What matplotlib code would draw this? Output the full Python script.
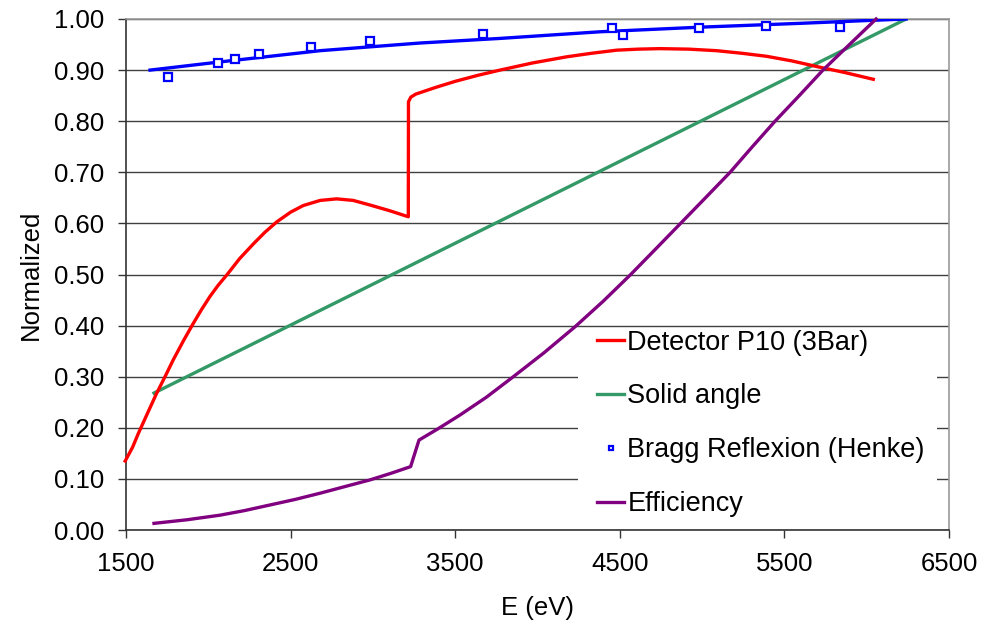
import matplotlib
matplotlib.use('Agg')
import matplotlib.pyplot as plt
from matplotlib.patches import Rectangle
from matplotlib.ticker import FormatStrFormatter

plt.rcParams['font.family'] = ['Liberation Sans', 'DejaVu Sans']

#%% DATA
det_e = [1495, 1540, 1575, 1630, 1686, 1740, 1787, 1850, 1909, 1960, 2010, 2060, 2112,
         2190, 2274, 2345, 2416, 2500, 2577, 2680, 2780, 2880, 2982, 3100, 3215,
         3216, 3230, 3260, 3380, 3500, 3640, 3772, 3970, 4177, 4330, 4481, 4610, 4744,
         4920, 5088, 5240, 5392, 5545, 5696, 5870, 6040]
det_v = [0.135, 0.162, 0.189, 0.228, 0.2675, 0.302, 0.333, 0.371, 0.4045, 0.432, 0.457,
         0.479, 0.499, 0.531, 0.560, 0.583, 0.603, 0.622, 0.635, 0.645, 0.648, 0.645,
         0.636, 0.625, 0.613,
         0.838, 0.847, 0.853, 0.866, 0.878, 0.890, 0.900, 0.914, 0.926, 0.933, 0.939,
         0.941, 0.942, 0.941, 0.938, 0.933, 0.927, 0.918, 0.907, 0.895, 0.882]

solid_e = [1670, 6239]
solid_v = [0.268, 1.000]

bragg_e = [1757, 2061, 2162, 2308, 2622, 2980, 3671, 4451, 4519, 4979, 5391, 5840]
bragg_v = [0.886, 0.913, 0.922, 0.931, 0.945, 0.956, 0.971, 0.982, 0.968, 0.983, 0.986, 0.984]

bragg_fit_e = [1646, 2071, 2679, 3286, 3772, 4380, 4987, 5595, 6002, 6239]
bragg_fit_v = [0.900, 0.916, 0.938, 0.953, 0.962, 0.975, 0.984, 0.9915, 0.997, 1.000]

eff_e = [1670, 1870, 2071, 2220, 2375, 2530, 2679, 2830, 2982, 3110, 3229, 3280, 3400,
         3529, 3690, 3853, 4040, 4229, 4400, 4563, 4715, 4866, 5020, 5170, 5305, 5443,
         5590, 5734, 5895, 6057]
eff_v = [0.013, 0.020, 0.029, 0.038, 0.049, 0.060, 0.072, 0.085, 0.098, 0.111, 0.124,
         0.176, 0.199, 0.225, 0.260, 0.300, 0.347, 0.398, 0.448, 0.499, 0.549, 0.599,
         0.650, 0.700, 0.750, 0.800, 0.850, 0.900, 0.950, 1.000]

xticks = [1500, 2500, 3500, 4500, 5500, 6500]
yticks = [0.0, 0.1, 0.2, 0.3, 0.4, 0.5, 0.6, 0.7, 0.8, 0.9, 1.0]

#%% PLOT
fig = plt.figure(figsize=(9.86, 6.25), dpi=100)
ax = fig.add_axes([0.1278, 0.152, 0.8347, 0.8176])

lw = 2.4
ax.plot(det_e, det_v, color='#FF0000', lw=lw, label='Detector P10 (3Bar)', zorder=4, clip_on=False)
ax.plot(solid_e, solid_v, color='#339966', lw=lw, label='Solid angle', zorder=3)
ax.plot(bragg_e, bragg_v, ls='none', marker='s', ms=5.5, mfc='white', mec='#0000FF', mew=1.6,
        label='Bragg Reflexion (Henke)', zorder=5)
ax.plot(bragg_fit_e, bragg_fit_v, color='#0000FF', lw=lw, zorder=4)
ax.plot(eff_e, eff_v, color='#800080', lw=lw, label='Efficiency', zorder=4, clip_on=False)

ax.set_xlim(1500, 6500)
ax.set_ylim(0, 1.0)
ax.set_xticks(xticks)
ax.set_yticks(yticks)
ax.yaxis.set_major_formatter(FormatStrFormatter('%.2f'))
ax.tick_params(axis='both', direction='out', length=6, width=1, color='#333333',
               labelsize=18.5, pad=10)
ax.yaxis.grid(True, color='#404040', lw=1)
ax.set_axisbelow(True)

for s in ['left', 'bottom']:
    ax.spines[s].set_color('#333333')
    ax.spines[s].set_linewidth(1.2)
for s in ['top', 'right']:
    ax.spines[s].set_color('#999999')
    ax.spines[s].set_linewidth(1.2)

ax.set_xlabel('E (eV)', fontsize=18.5, labelpad=14)
ax.set_ylabel('Normalized', fontsize=18.5, labelpad=8)

# white area behind the legend hides the gridlines, as in the reference
ax.add_patch(Rectangle((0.549, 0.0196), 0.4364, 0.3754, transform=ax.transAxes,
                       fc='white', ec='none', zorder=1.5))
leg = ax.legend(loc='upper left', bbox_to_anchor=(0.5723, 0.3923), borderaxespad=0,
                fontsize=19.5, frameon=False, handlelength=1.0, handletextpad=0.12,
                labelspacing=1.03, borderpad=0, markerscale=0.6)
leg.set_zorder(10)

fig.savefig('out.png', dpi=100)
